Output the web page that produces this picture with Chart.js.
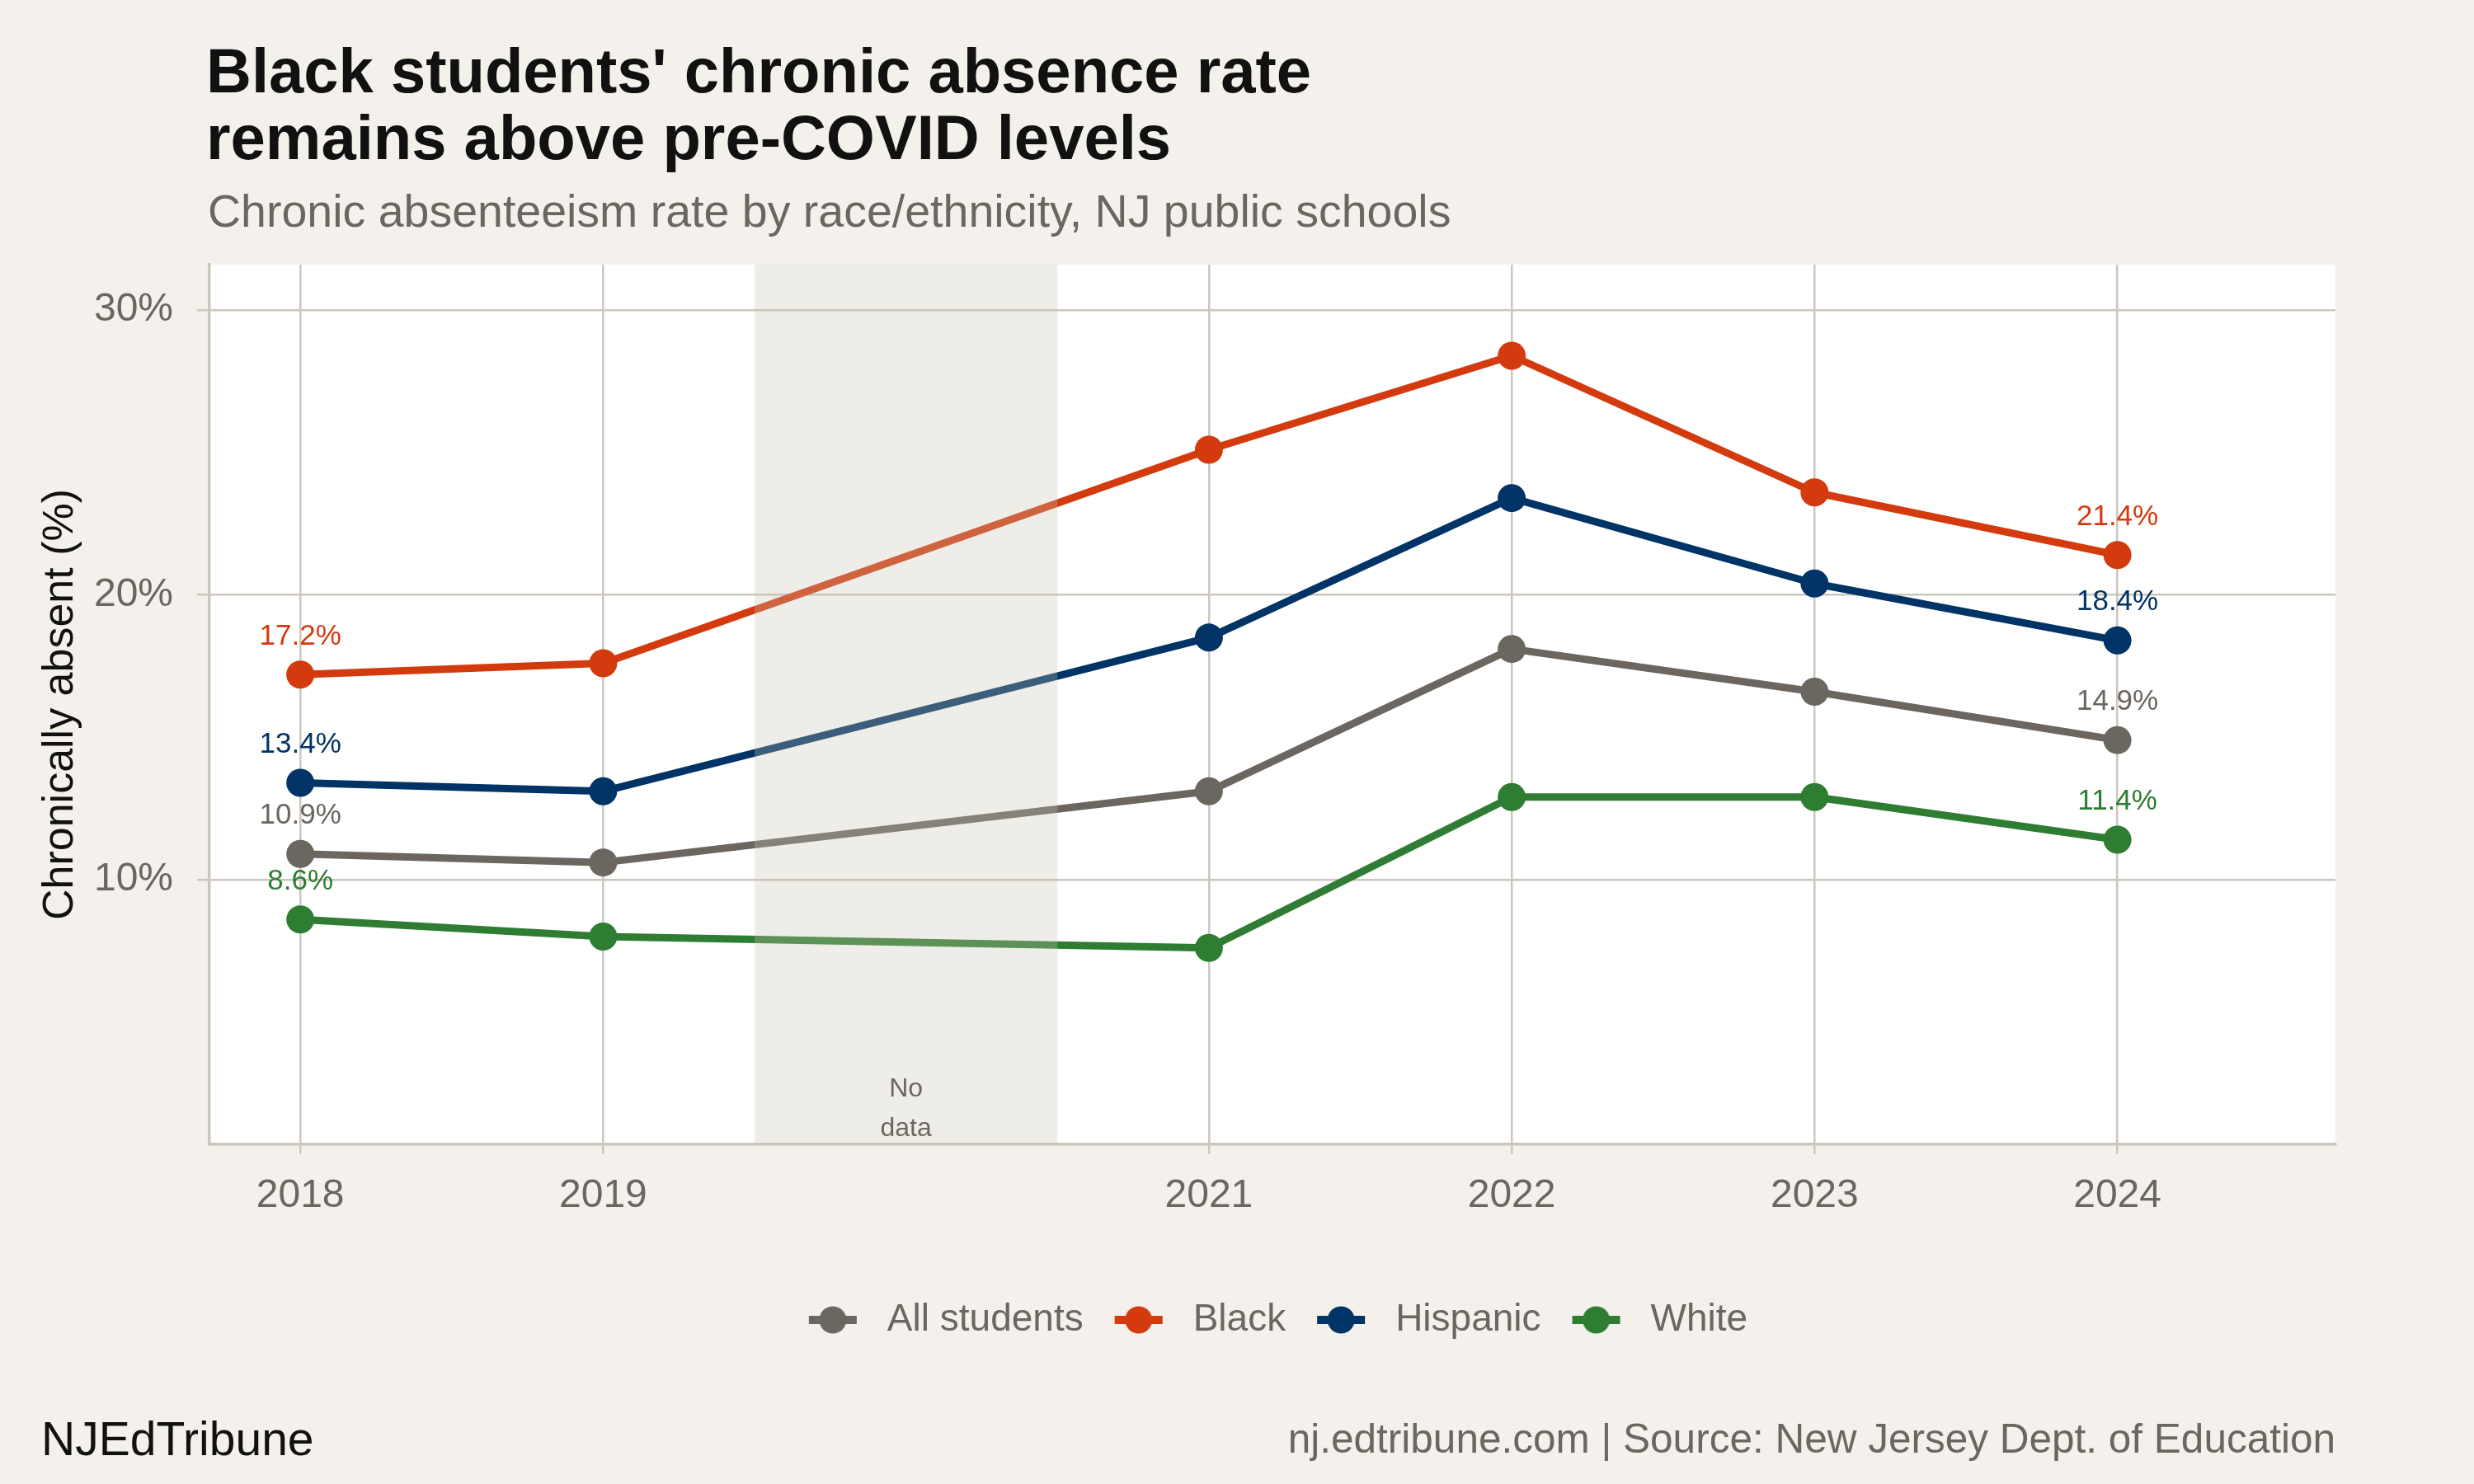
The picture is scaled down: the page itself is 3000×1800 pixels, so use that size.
<!DOCTYPE html>
<html>
<head>
<meta charset="utf-8">
<script src="https://cdn.jsdelivr.net/npm/chart.js@4.4.1/dist/chart.umd.min.js"></script>
<style>
  html, body { margin: 0; padding: 0; background: #F4F1EC; }
  #wrap { width: 3000px; height: 1800px; }
</style>
</head>
<body>
<div id="wrap"><canvas id="absenceChart"></canvas></div>
<script>
// values (percent)
const years = [2018, 2019, 2021, 2022, 2023, 2024];
const allStudents = [10.9, 10.6, 13.1, 18.1, 16.6, 14.9];
const black = [17.2, 17.6, 25.1, 28.4, 23.6, 21.4];
const hispanic = [13.4, 13.1, 18.5, 23.4, 20.4, 18.4];
const white = [8.6, 8.0, 7.6, 12.9, 12.9, 11.4];
const yTicks = [10, 20, 30];
const seriesNames = ['All students', 'Black', 'Hispanic', 'White'];
const seriesColors = ['#6B6660', '#D33A0E', '#003366', '#2E7D32'];
const noDataRange = [2019.5, 2020.5];

const FONT = '"Liberation Sans", Arial, Helvetica, sans-serif';
const GREY = '#6B6660';
const GRID = '#CDC6BC';

Chart.defaults.font.family = FONT;

function toPoints(values) {
    return values.map((v, i) => ({ x: years[i], y: v }));
}

// legend glyph: short line with a dot in the middle (ggplot style)
function legendIcon(color) {
    const c = document.createElement('canvas');
    c.width = 86;
    c.height = 34;
    const g = c.getContext('2d');
    g.fillStyle = color;
    g.fillRect(14, 12, 58, 10);
    g.beginPath();
    g.arc(43, 17, 16.5, 0, Math.PI * 2);
    g.fill();
    return c;
}
const legendIcons = seriesColors.map(legendIcon);

const seriesData = [allStudents, black, hispanic, white];
const datasets = seriesNames.map((name, i) => ({
    label: name,
    data: toPoints(seriesData[i]),
    borderColor: seriesColors[i],
    backgroundColor: seriesColors[i],
    pointBackgroundColor: seriesColors[i],
    pointBorderWidth: 0,
    pointRadius: 17,
    pointHoverRadius: 17,
    borderWidth: 9,
    borderJoinStyle: 'round',
    tension: 0,
    fill: false
}));

const pageDecor = {
    id: 'pageDecor',
    beforeDraw(chart) {
        const { ctx, chartArea: a } = chart;
        ctx.save();
        ctx.fillStyle = '#F4F1EC';
        ctx.fillRect(0, 0, chart.width, chart.height);
        ctx.fillStyle = '#FFFFFF';
        ctx.fillRect(a.left, a.top, a.right - a.left, a.bottom - a.top);
        ctx.restore();
    },
    afterLayout(chart) {
        // legend is centred under the panel, not the whole canvas
        chart.legend.left = chart.chartArea.left;
        chart.legend.right = chart.chartArea.right;
    },
    afterDatasetsDraw(chart) {
        const { ctx, chartArea: a, scales } = chart;
        const x0 = scales.x.getPixelForValue(noDataRange[0]);
        const x1 = scales.x.getPixelForValue(noDataRange[1]);
        ctx.save();
        ctx.fillStyle = 'rgba(200, 195, 180, 0.3)';
        ctx.fillRect(x0, a.top, x1 - x0, a.bottom - a.top);

        const xm = (x0 + x1) / 2;
        ctx.fillStyle = GREY;
        ctx.font = '32px ' + FONT;
        ctx.textAlign = 'center';
        ctx.textBaseline = 'alphabetic';
        ctx.fillText('No', xm, a.bottom - 58);
        ctx.fillText('data', xm, a.bottom - 10);
        ctx.restore();
    },
    afterDraw(chart) {
        const { ctx, chartArea: a } = chart;
        ctx.save();

        // end-point labels
        ctx.font = '35px ' + FONT;
        ctx.textAlign = 'center';
        ctx.textBaseline = 'middle';
        chart.data.datasets.forEach((ds, i) => {
            const pts = chart.getDatasetMeta(i).data;
            [0, pts.length - 1].forEach(j => {
                ctx.fillStyle = ds.borderColor;
                ctx.fillText(ds.data[j].y.toFixed(1) + '%', pts[j].x, pts[j].y - 46);
            });
        });

        // title + subtitle
        ctx.textAlign = 'left';
        ctx.textBaseline = 'alphabetic';
        ctx.fillStyle = '#111111';
        ctx.font = 'bold 76px ' + FONT;
        ctx.fillText("Black students' chronic absence rate", a.left - 4, 112);
        ctx.fillText('remains above pre-COVID levels', a.left - 4, 193);
        ctx.fillStyle = GREY;
        ctx.font = '55.5px ' + FONT;
        ctx.fillText('Chronic absenteeism rate by race/ethnicity, NJ public schools', a.left - 2, 275);

        // footer
        ctx.fillStyle = '#111111';
        ctx.font = '57px ' + FONT;
        ctx.fillText('NJEdTribune', 50, 1765);
        ctx.fillStyle = GREY;
        ctx.font = '49.5px ' + FONT;
        ctx.textAlign = 'right';
        ctx.fillText('nj.edtribune.com | Source: New Jersey Dept. of Education', a.right, 1762);
        ctx.restore();
    }
};

const ctx = document.getElementById('absenceChart').getContext('2d');
new Chart(ctx, {
    type: 'line',
    data: { datasets: datasets },
    plugins: [pageDecor],
    options: {
        responsive: true,
        maintainAspectRatio: false,
        animation: false,
        devicePixelRatio: 1,
        layout: { padding: { left: 0, right: 168, top: 321, bottom: 166 } },
        scales: {
            x: {
                type: 'linear',
                min: 2017.7,
                max: 2024.72,
                afterBuildTicks: scale => { scale.ticks = years.map(v => ({ value: v })); },
                afterFit: scale => { scale.height = 166; },
                ticks: {
                    color: GREY,
                    font: { size: 48 },
                    padding: 22,
                    maxRotation: 0,
                    autoSkip: false,
                    callback: v => String(v)
                },
                grid: { color: GRID, lineWidth: 2.5, tickLength: 12, drawTicks: true },
                border: { display: true, color: GRID, width: 3.5 }
            },
            y: {
                min: 0.7,
                max: 31.6,
                afterBuildTicks: scale => { scale.ticks = yTicks.map(v => ({ value: v })); },
                afterFit: scale => { scale.width = 254; },
                ticks: {
                    color: GREY,
                    font: { size: 48 },
                    padding: 29,
                    callback: v => v + '%'
                },
                grid: { color: GRID, lineWidth: 2.5, tickLength: 15, drawTicks: true },
                border: { display: true, color: GRID, width: 3.5 },
                title: {
                    display: true,
                    text: 'Chronically absent (%)',
                    color: '#111111',
                    font: { size: 52 },
                    padding: { top: 42, bottom: 0 }
                }
            }
        },
        plugins: {
            title: { display: false },
            tooltip: { enabled: false },
            legend: {
                display: true,
                position: 'bottom',
                labels: {
                    usePointStyle: true,
                    pointStyleWidth: 86,
                    padding: 24,
                    color: GREY,
                    font: { size: 46 },
                    generateLabels: chart => chart.data.datasets.map((ds, i) => ({
                        text: ds.label,
                        fillStyle: ds.borderColor,
                        strokeStyle: ds.borderColor,
                        fontColor: GREY,
                        lineWidth: 0,
                        pointStyle: legendIcons[i],
                        hidden: false,
                        datasetIndex: i
                    }))
                }
            }
        }
    }
});
</script>
</body>
</html>
